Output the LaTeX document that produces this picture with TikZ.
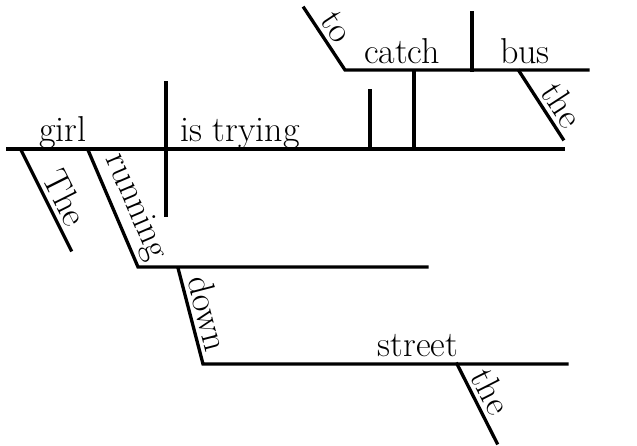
\documentclass[tikz,border=0pt]{standalone}
\usepackage{fontspec}
\begin{document}
\begin{tikzpicture}[x=1pt,y=-1pt,
  rule/.style={line width=3.3pt,line cap=rect},
  word/.style={font=\fontsize{36}{40}\selectfont,inner sep=0pt,anchor=base},
  slant/.style={font=\fontsize{36}{40}\selectfont,sloped,above,inner sep=4pt}]
\useasboundingbox (0,0) rectangle (637,446);

% main clause
\coordinate (mainL) at (8,149);
\coordinate (mainR) at (563,149);
\coordinate (divT) at (166,83);
\coordinate (divB) at (166,215);
\draw[rule] (mainL) -- (mainR);
\draw[rule] (divT) -- (divB);
\node[word] (girl) at (63,142) {girl};
\node[word] (verb) at (240,142) {is trying};

% modifiers of the subject
\coordinate (theA) at (21,150);
\coordinate (theB) at (71,250);
\draw[rule] (theA) -- node[slant,pos=0.56] (theW) {The} (theB);
\coordinate (runA) at (88,150);
\coordinate (runB) at (138,267);
\coordinate (runR) at (427,267);
\draw[rule] (runA) -- node[slant,pos=0.56] (runW) {running} (runB) -- (runR);

% prepositional phrase
\coordinate (downA) at (178,268);
\coordinate (downB) at (203,364);
\coordinate (streetR) at (567,364);
\draw[rule] (downA) -- node[slant,pos=0.52] (downW) {down} (downB) -- (streetR);
\node[word] (street) at (418,356) {street};
\coordinate (the2A) at (457,364);
\coordinate (the2B) at (497,443);
\draw[rule] (the2A) -- node[slant,pos=0.45] (the2W) {the} (the2B);

% infinitive phrase on its pedestal
\coordinate (objT) at (370,91);
\coordinate (objB) at (370,149);
\draw[rule] (objT) -- (objB);
\coordinate (pedT) at (414,71);
\coordinate (pedB) at (414,149);
\draw[rule] (pedT) -- (pedB);
\coordinate (toA) at (304,8);
\coordinate (infL) at (345,70);
\coordinate (infR) at (588,70);
\draw[rule] (toA) -- node[slant,pos=0.45] (toW) {to} (infL) -- (infR);
\coordinate (sepT) at (472,13);
\coordinate (sepB) at (472,70);
\draw[rule] (sepT) -- (sepB);
\node[word] (catch) at (402,64) {catch};
\node[word] (bus) at (525,64) {bus};
\coordinate (the1A) at (519,71);
\coordinate (the1B) at (563,139);
\draw[rule] (the1A) -- node[slant,pos=0.64] (the1W) {the} (the1B);
\end{tikzpicture}
\end{document}
